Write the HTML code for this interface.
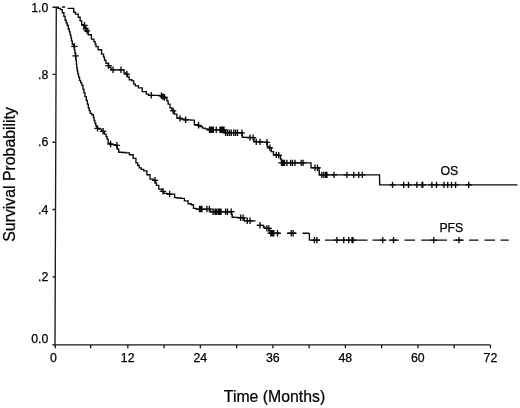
<!DOCTYPE html>
<html><head><meta charset="utf-8"><title>Survival Probability</title>
<style>
html,body{margin:0;padding:0;background:#fff;}
body{width:520px;height:408px;overflow:hidden;}
svg{display:block}
text{font-family:"Liberation Sans",Arial,Helvetica,sans-serif;fill:#000;stroke:#000;stroke-width:0.25px}
.t{font-size:12.3px}
.big{font-size:17.3px}
.ln{fill:none;stroke:#0a0a0a;stroke-width:1.35;stroke-linejoin:miter}
.ax{fill:none;stroke:#1a1a1a;stroke-width:1.35}
</style></head><body>
<svg width="520" height="408" viewBox="0 0 520 408">
<rect width="520" height="408" fill="#fff"/>
<path class="ax" d="M56.30 7.20L55.00 344.90H490.50"/>
<path class="ax" d="M55.30 344.90v3.3M90.70 344.90v3.3M127.83 344.90v3.3M164.09 344.90v3.3M200.36 344.90v3.3M236.62 344.90v3.3M272.88 344.90v3.3M309.15 344.90v3.3M345.41 344.90v3.3M381.68 344.90v3.3M417.94 344.90v3.3M454.20 344.90v3.3M490.47 344.90v3.3M55.00 344.90H52.20M55.26 276.80H52.40M55.52 209.50H52.40M55.78 142.20H52.40M56.04 74.40H52.40M56.30 7.20H52.40"/>
<g class="t"><text x="53.5" y="362.0" text-anchor="middle">0</text><text x="127.7" y="362.0" text-anchor="middle">12</text><text x="200.3" y="362.0" text-anchor="middle">24</text><text x="272.8" y="362.0" text-anchor="middle">36</text><text x="345.3" y="362.0" text-anchor="middle">48</text><text x="417.8" y="362.0" text-anchor="middle">60</text><text x="490.4" y="362.0" text-anchor="middle">72</text><text x="48.3" y="342.8" text-anchor="end">0.0</text><text x="48.3" y="280.8" text-anchor="end">.2</text><text x="48.3" y="213.6" text-anchor="end">.4</text><text x="48.3" y="146.2" text-anchor="end">.6</text><text x="48.3" y="78.8" text-anchor="end">.8</text><text x="48.3" y="11.6" text-anchor="end">1.0</text>
<text x="440.4" y="174.8">OS</text>
<text x="439.4" y="232.1">PFS</text>
</g>
<text class="big" transform="translate(223.8 402.4) scale(0.915 1)">Time (Months)</text>
<text class="big" transform="translate(15.1 241.7) rotate(-90) scale(0.915 1)">Survival Probability</text>
<path class="ln" d="M67.60 8.40 L73.50 8.40 L73.75 8.40 L73.75 12.20 L74.00 12.20 L75.50 12.20 L75.50 14.05 L77.00 14.05 L78.25 14.05 L78.25 17.20 L79.50 17.20 L80.12 17.20 L80.12 20.90 L80.75 20.90 L81.67 20.90 L81.67 24.70 L82.60 24.70 L83.80 24.70 L83.80 27.80 L85.00 27.80 L86.00 27.80 L86.00 30.80 L87.00 30.80 L88.25 30.80 L88.25 34.70 L89.50 34.70 L91.38 34.70 L91.38 39.05 L93.25 39.05 L93.88 39.05 L93.88 41.55 L94.50 41.55 L95.12 41.55 L95.12 44.05 L95.75 44.05 L96.00 44.05 L96.00 46.55 L96.25 46.55 L98.12 46.55 L98.12 49.70 L100.00 49.70 L101.55 49.70 L101.55 54.05 L103.10 54.05 L103.57 54.05 L103.57 57.17 L104.05 57.17 L104.53 57.17 L104.53 60.30 L105.00 60.30 L105.95 60.30 L105.95 63.40 L106.90 63.40 L108.45 63.40 L108.45 67.20 L110.00 67.20 L111.00 67.20 L111.00 69.80 L112.00 69.80 L123.00 69.80 L124.00 69.80 L124.00 72.80 L125.00 72.80 L125.95 72.80 L125.95 74.05 L126.90 74.05 L127.68 74.05 L127.68 76.88 L128.45 76.88 L129.22 76.88 L129.22 79.70 L130.00 79.70 L131.88 79.70 L131.88 80.90 L133.75 80.90 L133.75 84.05 L135.31 84.05 L135.31 85.92 L136.88 85.92 L138.44 85.92 L138.44 87.80 L140.00 87.80 L142.20 87.80 L142.20 91.55 L144.40 91.55 L146.25 91.55 L146.25 94.05 L148.10 94.05 L148.55 94.05 L148.55 95.30 L149.00 95.30 L162.00 95.30 L162.50 95.30 L162.50 97.20 L163.00 97.20 L164.62 97.20 L164.62 97.80 L166.25 97.80 L166.88 97.80 L166.88 100.92 L167.50 100.92 L168.12 100.92 L168.12 104.05 L168.75 104.05 L170.00 104.05 L170.00 107.80 L171.25 107.80 L171.88 107.80 L171.88 110.30 L172.50 110.30 L174.38 110.30 L174.38 114.05 L176.25 114.05 L176.88 114.05 L176.88 117.80 L177.50 117.80 L178.75 117.80 L178.75 118.40 L180.00 118.40 L181.40 118.40 L181.40 119.05 L182.80 119.05 L184.20 119.05 L184.20 119.70 L185.60 119.70 L187.32 119.70 L187.32 119.88 L189.05 119.88 L190.78 119.88 L190.78 120.05 L192.50 120.05 L194.38 120.05 L194.38 124.70 L196.25 124.70 L197.38 124.70 L197.38 125.30 L198.50 125.30 L199.81 125.30 L199.81 126.68 L201.12 126.68 L202.44 126.68 L202.44 128.05 L203.75 128.05 L205.38 128.05 L205.38 128.80 L207.00 128.80 L208.00 128.80 L208.00 129.80 L209.00 129.80 L224.00 129.80 L224.50 129.80 L224.50 132.60 L225.00 132.60 L227.11 132.60 L227.11 132.65 L229.22 132.65 L231.34 132.65 L231.34 132.70 L233.45 132.70 L235.56 132.70 L235.56 132.75 L237.68 132.75 L239.79 132.75 L239.79 132.80 L241.90 132.80 L242.20 132.80 L242.20 137.20 L242.50 137.20 L244.25 137.20 L244.25 137.33 L246.00 137.33 L247.75 137.33 L247.75 137.47 L249.50 137.47 L251.25 137.47 L251.25 137.60 L253.00 137.60 L254.00 137.60 L254.00 141.30 L255.00 141.30 L256.25 141.30 L256.25 141.65 L257.50 141.65 L258.75 141.65 L258.75 142.00 L260.00 142.00 L261.62 142.00 L261.62 142.10 L263.25 142.10 L264.88 142.10 L264.88 142.20 L266.50 142.20 L267.30 142.20 L267.30 146.55 L268.10 146.55 L269.05 146.55 L269.05 147.80 L270.00 147.80 L271.25 147.80 L271.25 151.55 L272.50 151.55 L273.45 151.55 L273.45 154.70 L274.40 154.70 L275.80 154.70 L275.80 155.00 L277.20 155.00 L278.60 155.00 L278.60 155.30 L280.00 155.30 L280.50 155.30 L280.50 159.05 L281.00 159.05 L281.50 159.05 L281.50 162.90 L282.00 162.90 L310.80 162.90 L311.02 162.90 L311.02 167.70 L311.25 167.70 L319.00 167.70 L319.10 167.70 L319.10 171.30 L319.20 171.30 L319.30 171.30 L319.30 174.90 L319.40 174.90 L379.50 174.90 L379.54 174.90 L379.54 178.23 L379.58 178.23 L379.62 178.23 L379.62 181.57 L379.67 181.57 L379.71 181.57 L379.71 184.90 L379.75 184.90 L517.50 184.90"/>
<path class="ln" d="M56.60 7.60 L58.05 7.60 L58.05 8.40 L59.50 8.40 L60.45 8.40 L60.45 9.60 L61.40 9.60 L62.33 9.60 L62.33 12.70 L63.25 12.70 L63.88 12.70 L63.88 16.40 L64.50 16.40 L65.12 16.40 L65.12 20.20 L65.75 20.20 L66.21 20.20 L66.21 22.70 L66.67 22.70 L67.14 22.70 L67.14 25.20 L67.60 25.20 L68.25 25.20 L68.25 29.00 L68.90 29.00 L69.33 29.00 L69.33 31.90 L69.75 31.90 L70.17 31.90 L70.17 34.80 L70.60 34.80 L70.90 34.80 L70.90 37.80 L71.20 37.80 L71.50 37.80 L71.50 40.80 L71.80 40.80 L72.30 40.80 L72.30 44.30 L72.80 44.30 L73.53 44.30 L73.53 46.80 L74.25 46.80 L74.47 46.80 L74.47 49.83 L74.70 49.83 L74.92 49.83 L74.92 52.87 L75.15 52.87 L75.38 52.87 L75.38 55.90 L75.60 55.90 L75.92 55.90 L75.92 60.30 L76.25 60.30 L76.41 60.30 L76.41 64.05 L76.58 64.05 L76.74 64.05 L76.74 67.80 L76.90 67.80 L77.20 67.80 L77.20 70.92 L77.50 70.92 L77.80 70.92 L77.80 74.05 L78.10 74.05 L78.57 74.05 L78.57 77.17 L79.05 77.17 L79.53 77.17 L79.53 80.30 L80.00 80.30 L80.62 80.30 L80.62 82.80 L81.25 82.80 L81.88 82.80 L81.88 85.30 L82.50 85.30 L82.97 85.30 L82.97 89.05 L83.45 89.05 L83.93 89.05 L83.93 92.80 L84.40 92.80 L85.03 92.80 L85.03 96.55 L85.65 96.55 L86.28 96.55 L86.28 100.30 L86.90 100.30 L87.36 100.30 L87.36 104.05 L87.83 104.05 L88.29 104.05 L88.29 107.80 L88.75 107.80 L89.21 107.80 L89.21 110.60 L89.67 110.60 L90.14 110.60 L90.14 113.40 L90.60 113.40 L91.85 113.40 L91.85 114.70 L93.10 114.70 L93.42 114.70 L93.42 117.50 L93.75 117.50 L94.08 117.50 L94.08 120.30 L94.40 120.30 L94.86 120.30 L94.86 123.10 L95.33 123.10 L95.79 123.10 L95.79 125.90 L96.25 125.90 L96.88 125.90 L96.88 128.40 L97.50 128.40 L98.75 128.40 L98.75 129.05 L100.00 129.05 L101.55 129.05 L101.55 131.30 L103.10 131.30 L104.35 131.30 L104.35 134.05 L105.60 134.05 L106.07 134.05 L106.07 136.55 L106.55 136.55 L107.03 136.55 L107.03 139.05 L107.50 139.05 L108.12 139.05 L108.12 143.40 L108.75 143.40 L109.67 143.40 L109.67 144.05 L110.60 144.05 L112.17 144.05 L112.17 144.68 L113.75 144.68 L115.33 144.68 L115.33 145.30 L116.90 145.30 L117.20 145.30 L117.20 149.05 L117.50 149.05 L118.75 149.05 L118.75 152.20 L120.00 152.20 L121.88 152.20 L121.88 152.50 L123.75 152.50 L125.62 152.50 L125.62 152.80 L127.50 152.80 L129.38 152.80 L129.38 154.70 L131.25 154.70 L133.12 154.70 L133.12 158.40 L135.00 158.40 L135.95 158.40 L135.95 162.80 L136.90 162.80 L137.68 162.80 L137.68 165.30 L138.45 165.30 L139.22 165.30 L139.22 167.80 L140.00 167.80 L141.25 167.80 L141.25 169.35 L142.50 169.35 L143.75 169.35 L143.75 170.90 L145.00 170.90 L146.88 170.90 L146.88 174.70 L148.75 174.70 L150.00 174.70 L150.00 179.05 L151.25 179.05 L153.12 179.05 L153.12 180.30 L155.00 180.30 L155.47 180.30 L155.47 182.80 L155.95 182.80 L156.43 182.80 L156.43 185.30 L156.90 185.30 L158.75 185.30 L158.75 189.05 L160.60 189.05 L161.75 189.05 L161.75 191.30 L162.90 191.30 L163.95 191.30 L163.95 193.40 L165.00 193.40 L167.30 193.40 L167.30 194.05 L169.60 194.05 L173.75 194.05 L174.68 194.05 L174.68 197.55 L175.60 197.55 L177.32 197.55 L177.32 197.98 L179.05 197.98 L180.78 197.98 L180.78 198.40 L182.50 198.40 L184.38 198.40 L184.38 200.90 L186.25 200.90 L188.12 200.90 L188.12 203.70 L190.00 203.70 L191.25 203.70 L191.25 204.70 L192.50 204.70 L193.45 204.70 L193.45 208.40 L194.40 208.40 L195.95 208.40 L195.95 209.05 L197.50 209.05 L210.00 209.05 L210.30 209.05 L210.30 211.70 L210.60 211.70 L231.25 211.70 L231.56 211.70 L231.56 214.45 L231.88 214.45 L232.19 214.45 L232.19 217.20 L232.50 217.20 L234.33 217.20 L234.33 217.40 L236.17 217.40 L238.00 217.40 L238.00 217.60 L239.83 217.60 L241.67 217.60 L241.67 217.80 L243.50 217.80 L244.25 217.80 L244.25 220.80 L245.00 220.80 L255.60 220.80"/>
<path class="ln" d="M256.90 225.30 L263.10 225.30 L263.55 225.30 L263.55 227.20 L264.00 227.20 L265.00 227.20 L265.00 228.40 L266.00 228.40 L269.50 228.40 L269.75 228.40 L269.75 233.20 L270.00 233.20 L280.60 233.20"/>
<path class="ln" d="M309.40 233.20 L309.40 240.10 L320.00 240.10"/>
<path class="ln" d="M286.90 233.20H296.25M302.50 233.20H309.40M325.00 240.1H367.50M372.50 240.1H386.25M388.75 240.1H398.75M404.40 240.1H415.00M421.25 240.1H446.90M453.10 240.1H463.75M469.00 240.1H478.50M484.40 240.1H495.00M500.60 240.1H508.75"/>
<path class="ln" d="M56.3 7.2H58.9M62 7.0H65.1"/>
<path class="ln" d="M84.50 22.10V28.50M81.30 25.30H87.70M85.75 25.60V32.00M82.55 28.80H88.95M87.00 27.60V34.00M83.80 30.80H90.20M108.50 62.40V68.80M105.30 65.60H111.70M113.10 66.50V72.90M109.90 69.70H116.30M121.00 66.60V73.00M117.80 69.80H124.20M126.90 70.85V77.25M123.70 74.05H130.10M151.25 92.10V98.50M148.05 95.30H154.45M161.50 92.60V99.00M158.30 95.80H164.70M163.00 93.60V100.00M159.80 96.80H166.20M164.50 94.10V100.50M161.30 97.30H167.70M173.10 107.70V114.10M169.90 110.90H176.30M180.00 115.20V121.60M176.80 118.40H183.20M185.60 116.50V122.90M182.40 119.70H188.80M198.50 122.10V128.50M195.30 125.30H201.70M209.50 126.60V133.00M206.30 129.80H212.70M210.50 126.60V133.00M207.30 129.80H213.70M211.50 126.60V133.00M208.30 129.80H214.70M212.50 126.60V133.00M209.30 129.80H215.70M213.30 126.60V133.00M210.10 129.80H216.50M216.25 126.60V133.00M213.05 129.80H219.45M220.00 126.60V133.00M216.80 129.80H223.20M221.00 126.60V133.00M217.80 129.80H224.20M222.00 126.60V133.00M218.80 129.80H225.20M223.00 126.60V133.00M219.80 129.80H226.20M224.00 126.60V133.00M220.80 129.80H227.20M225.60 129.60V136.00M222.40 132.80H228.80M227.50 129.60V136.00M224.30 132.80H230.70M229.40 129.60V136.00M226.20 132.80H232.60M231.25 129.60V136.00M228.05 132.80H234.45M233.75 129.60V136.00M230.55 132.80H236.95M235.60 129.60V136.00M232.40 132.80H238.80M237.50 129.60V136.00M234.30 132.80H240.70M241.90 129.60V136.00M238.70 132.80H245.10M250.00 134.40V140.80M246.80 137.60H253.20M253.10 134.40V140.80M249.90 137.60H256.30M256.25 138.70V145.10M253.05 141.90H259.45M260.00 138.70V145.10M256.80 141.90H263.20M266.90 139.10V145.50M263.70 142.30H270.10M270.00 144.60V151.00M266.80 147.80H273.20M276.25 151.70V158.10M273.05 154.90H279.45M278.75 152.10V158.50M275.55 155.30H281.95M281.50 159.70V166.10M278.30 162.90H284.70M282.50 159.70V166.10M279.30 162.90H285.70M283.50 159.70V166.10M280.30 162.90H286.70M284.50 159.70V166.10M281.30 162.90H287.70M286.90 159.70V166.10M283.70 162.90H290.10M290.60 159.70V166.10M287.40 162.90H293.80M292.50 159.70V166.10M289.30 162.90H295.70M295.00 159.70V166.10M291.80 162.90H298.20M301.25 159.70V166.10M298.05 162.90H304.45M303.10 159.70V166.10M299.90 162.90H306.30M315.00 164.50V170.90M311.80 167.70H318.20M317.50 164.50V170.90M314.30 167.70H320.70M321.90 171.70V178.10M318.70 174.90H325.10M323.75 171.70V178.10M320.55 174.90H326.95M325.60 171.70V178.10M322.40 174.90H328.80M326.90 171.70V178.10M323.70 174.90H330.10M334.00 171.70V178.10M330.80 174.90H337.20M346.90 171.70V178.10M343.70 174.90H350.10M353.75 171.70V178.10M350.55 174.90H356.95M358.75 171.70V178.10M355.55 174.90H361.95M362.25 171.70V178.10M359.05 174.90H365.45M392.50 181.70V188.10M389.30 184.90H395.70M403.75 181.70V188.10M400.55 184.90H406.95M408.50 181.70V188.10M405.30 184.90H411.70M416.90 181.70V188.10M413.70 184.90H420.10M422.00 181.70V188.10M418.80 184.90H425.20M422.75 181.70V188.10M419.55 184.90H425.95M431.90 181.70V188.10M428.70 184.90H435.10M436.50 181.70V188.10M433.30 184.90H439.70M444.00 181.70V188.10M440.80 184.90H447.20M447.75 181.70V188.10M444.55 184.90H450.95M451.50 181.70V188.10M448.30 184.90H454.70M455.60 181.70V188.10M452.40 184.90H458.80M468.75 181.70V188.10M465.55 184.90H471.95"/>
<path class="ln" d="M74.40 43.10V49.50M71.20 46.30H77.60M75.60 52.70V59.10M72.40 55.90H78.80M97.50 125.20V131.60M94.30 128.40H100.70M103.10 128.10V134.50M99.90 131.30H106.30M110.60 140.85V147.25M107.40 144.05H113.80M116.90 142.10V148.50M113.70 145.30H120.10M155.00 177.10V183.50M151.80 180.30H158.20M162.90 188.10V194.50M159.70 191.30H166.10M169.60 190.85V197.25M166.40 194.05H172.80M199.50 205.85V212.25M196.30 209.05H202.70M200.50 205.85V212.25M197.30 209.05H203.70M201.90 205.85V212.25M198.70 209.05H205.10M206.90 205.85V212.25M203.70 209.05H210.10M209.40 205.85V212.25M206.20 209.05H212.60M213.10 208.50V214.90M209.90 211.70H216.30M215.00 208.50V214.90M211.80 211.70H218.20M216.25 208.50V214.90M213.05 211.70H219.45M218.00 208.50V214.90M214.80 211.70H221.20M219.00 208.50V214.90M215.80 211.70H222.20M220.00 208.50V214.90M216.80 211.70H223.20M221.00 208.50V214.90M217.80 211.70H224.20M225.60 208.50V214.90M222.40 211.70H228.80M227.50 208.50V214.90M224.30 211.70H230.70M231.25 208.50V214.90M228.05 211.70H234.45M240.60 214.60V221.00M237.40 217.80H243.80M243.10 214.60V221.00M239.90 217.80H246.30M247.20 217.60V224.00M244.00 220.80H250.40M250.00 217.60V224.00M246.80 220.80H253.20M260.00 222.10V228.50M256.80 225.30H263.20M266.90 225.20V231.60M263.70 228.40H270.10M268.75 225.20V231.60M265.55 228.40H271.95M270.80 230.00V236.40M267.60 233.20H274.00M271.80 230.00V236.40M268.60 233.20H275.00M272.80 230.00V236.40M269.60 233.20H276.00M273.80 230.00V236.40M270.60 233.20H277.00M277.50 230.00V236.40M274.30 233.20H280.70M291.25 230.00V236.40M288.05 233.20H294.45M293.10 230.00V236.40M289.90 233.20H296.30M314.40 236.90V243.30M311.20 240.10H317.60M316.90 236.90V243.30M313.70 240.10H320.10M336.90 236.90V243.30M333.70 240.10H340.10M343.75 236.90V243.30M340.55 240.10H346.95M348.75 236.90V243.30M345.55 240.10H351.95M352.00 236.90V243.30M348.80 240.10H355.20M353.00 236.90V243.30M349.80 240.10H356.20M382.75 236.90V243.30M379.55 240.10H385.95M393.50 236.90V243.30M390.30 240.10H396.70M433.75 236.90V243.30M430.55 240.10H436.95M459.00 236.90V243.30M455.80 240.10H462.20"/>
</svg>
</body></html>
